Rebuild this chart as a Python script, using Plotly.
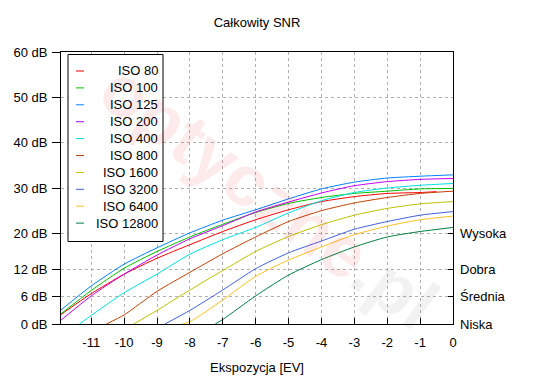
import plotly.graph_objects as go

# ---- data ----
series_names = ["ISO 80", "ISO 100", "ISO 125", "ISO 200", "ISO 400",
                "ISO 800", "ISO 1600", "ISO 3200", "ISO 6400", "ISO 12800"]
series_colors = ["#FF0000", "#00C000", "#0080FF", "#C000FF", "#00E0E0",
                 "#C04000", "#C0C000", "#4060E0", "#FFC020", "#008040"]

ev_full = [-11.92, -11, -10, -9, -8, -7, -6, -5, -4, -3, -2, -1, 0]

iso80_x = [-11.92, -11, -10, -9, -8, -7, -6, -5, -4, -3, -2, -1, -0.5]
iso80_y = [2.1, 6.7, 11.0, 14.5, 17.5, 20.4, 23.0, 25.2, 27.0, 28.1, 28.8, 29.0, 29.2]
iso100_y = [2.25, 7.4, 12.3, 16.0, 19.2, 22.0, 24.6, 26.6, 27.9, 28.8, 29.3, 29.8, 29.9]
iso125_y = [3.1, 8.4, 13.2, 16.8, 20.1, 22.9, 25.2, 27.6, 29.8, 31.3, 32.2, 32.6, 32.9]
iso200_y = [0.85, 6.2, 11.0, 15.2, 18.8, 21.7, 24.7, 26.9, 28.9, 30.5, 31.4, 31.9, 32.1]
iso400_x = [-11.36, -11, -10, -9, -8, -7, -6, -5, -4, -3, -2, -1, 0]
iso400_y = [0, 1.9, 6.9, 11.0, 15.4, 18.6, 21.3, 24.5, 27.2, 29.0, 30.0, 30.6, 31.0]
iso800_x = [-10.54, -10, -9, -8, -7, -6, -5, -4, -3, -2, -1, 0]
iso800_y = [0, 2.0, 7.2, 11.4, 15.5, 19.2, 22.6, 25.0, 26.7, 27.9, 28.8, 29.3]
iso1600_x = [-9.71, -9, -8, -7, -6, -5, -4, -3, -2, -1, 0]
iso1600_y = [0, 3.0, 7.5, 11.8, 16.0, 19.3, 21.9, 24.0, 25.5, 26.5, 27.0]
iso3200_x = [-8.76, -8, -7, -6, -5, -4, -3, -2, -1, 0]
iso3200_y = [0, 3.0, 7.5, 12.2, 15.7, 18.3, 20.9, 22.6, 24.0, 24.8]
iso6400_x = [-8.23, -8, -7, -6, -5, -4, -3, -2, -1, 0]
iso6400_y = [0, 0.5, 5.3, 10.5, 14.1, 17.0, 19.7, 21.6, 23.0, 23.8]
iso12800_x = [-7.23, -7, -6, -5, -4, -3, -2, -1, 0]
iso12800_y = [0, 1.0, 6.2, 10.8, 14.2, 17.0, 19.2, 20.4, 21.3]

series_x = [iso80_x, ev_full, ev_full, ev_full, iso400_x, iso800_x,
            iso1600_x, iso3200_x, iso6400_x, iso12800_x]
series_y = [iso80_y, iso100_y, iso125_y, iso200_y, iso400_y, iso800_y,
            iso1600_y, iso3200_y, iso6400_y, iso12800_y]

x_ticks = [-11, -10, -9, -8, -7, -6, -5, -4, -3, -2, -1, 0]
x_ticklabels = ["-11", "-10", "-9", "-8", "-7", "-6", "-5", "-4", "-3", "-2", "-1", "0"]
y_ticks = [0, 6, 12, 20, 30, 40, 50, 60]
y_ticklabels = ["0 dB", "6 dB", "12 dB", "20 dB", "30 dB", "40 dB", "50 dB", "60 dB"]
quality_ticks = [0, 6, 12, 20]
quality_labels = ["Niska", "Średnia", "Dobra", "Wysoka"]

FONT = "Liberation Sans, Arial, sans-serif"
FS = 13

# plot area in figure pixels (page has an 8px body margin)
W, H = 550, 380
L, R, T, B = 53, 105, 44, 64
PW, PH = W - L - R, H - T - B


def px_x(px):  # figure px -> paper x
    return (px - L) / PW


def px_y(py):  # figure px -> paper y
    return (H - B - py) / PH


fig = go.Figure()
for name, color, xs, ys in zip(series_names, series_colors, series_x, series_y):
    fig.add_trace(go.Scatter(x=xs, y=ys, name=name, mode="lines",
                             line=dict(color=color, width=1, shape="spline", smoothing=0.6),
                             yaxis="y", showlegend=False))

# invisible trace for right axis
fig.add_trace(go.Scatter(x=[0], y=[0], yaxis="y2", showlegend=False,
                         mode="markers", marker=dict(opacity=0), hoverinfo="skip"))

fig.update_layout(
    width=W, height=H,
    margin=dict(l=L, r=R, t=T, b=B, autoexpand=False),
    paper_bgcolor="white", plot_bgcolor="white",
    font=dict(family=FONT, size=FS, color="black"),
    title=dict(text="Całkowity SNR", x=249 / W, xanchor="center",
               y=1 - 14 / H, yanchor="middle", font=dict(size=FS)),
    xaxis=dict(range=[-11.92, 0], tickvals=x_ticks, ticktext=x_ticklabels,
               ticks="inside", ticklen=6, tickcolor="black",
               showline=True, linecolor="black", linewidth=1, mirror=True,
               showgrid=True, gridcolor="#B0B0B0", griddash="3px,3px", gridwidth=1,
               zeroline=False, ticklabelstandoff=6,
               title=dict(text="Ekspozycja [EV]", standoff=14, font=dict(size=FS))),
    yaxis=dict(range=[0, 60], tickvals=y_ticks, ticktext=y_ticklabels,
               ticks="outside", ticklen=8, tickcolor="black",
               showline=True, linecolor="black", linewidth=1, mirror=True,
               showgrid=True, gridcolor="#B0B0B0", griddash="3px,3px", gridwidth=1,
               zeroline=False, ticklabelstandoff=2),
    yaxis2=dict(range=[0, 60], overlaying="y", side="right",
                tickvals=quality_ticks, ticktext=quality_labels,
                ticks="inside", ticklen=5, tickcolor="black",
                showline=False, showgrid=False, zeroline=False,
                ticklabelstandoff=6),
    showlegend=False,
)

# watermark
fig.add_annotation(
    text="<b><span style='color:rgba(235,0,0,0.08)'>optyczne</span>"
         "<span style='color:rgba(0,0,0,0.05)'>.pl</span></b>",
    x=0.53, y=0.47, xref="paper", yref="paper", showarrow=False,
    textangle=36, font=dict(size=72, family=FONT))

# gnuplot-style key: box, short line samples, right-aligned labels
box_l, box_r, box_t, box_b = 60, 155, 46.5, 233.5
fig.add_shape(type="rect", xref="paper", yref="paper",
              x0=px_x(box_l), x1=px_x(box_r), y0=px_y(box_b), y1=px_y(box_t),
              line=dict(color="black", width=1), fillcolor="white", layer="above")
row0, row_step = 63, 16.9
for i, (name, color) in enumerate(zip(series_names, series_colors)):
    yy = px_y(row0 + i * row_step)
    fig.add_shape(type="line", xref="paper", yref="paper",
                  x0=px_x(68), x1=px_x(76), y0=yy, y1=yy,
                  line=dict(color=color, width=1), layer="above")
    fig.add_annotation(text=name, x=px_x(151.5), y=yy, xref="paper", yref="paper",
                       xanchor="right", yanchor="middle", showarrow=False,
                       font=dict(size=FS, family=FONT, color="black"))

fig.write_html("out.html")
